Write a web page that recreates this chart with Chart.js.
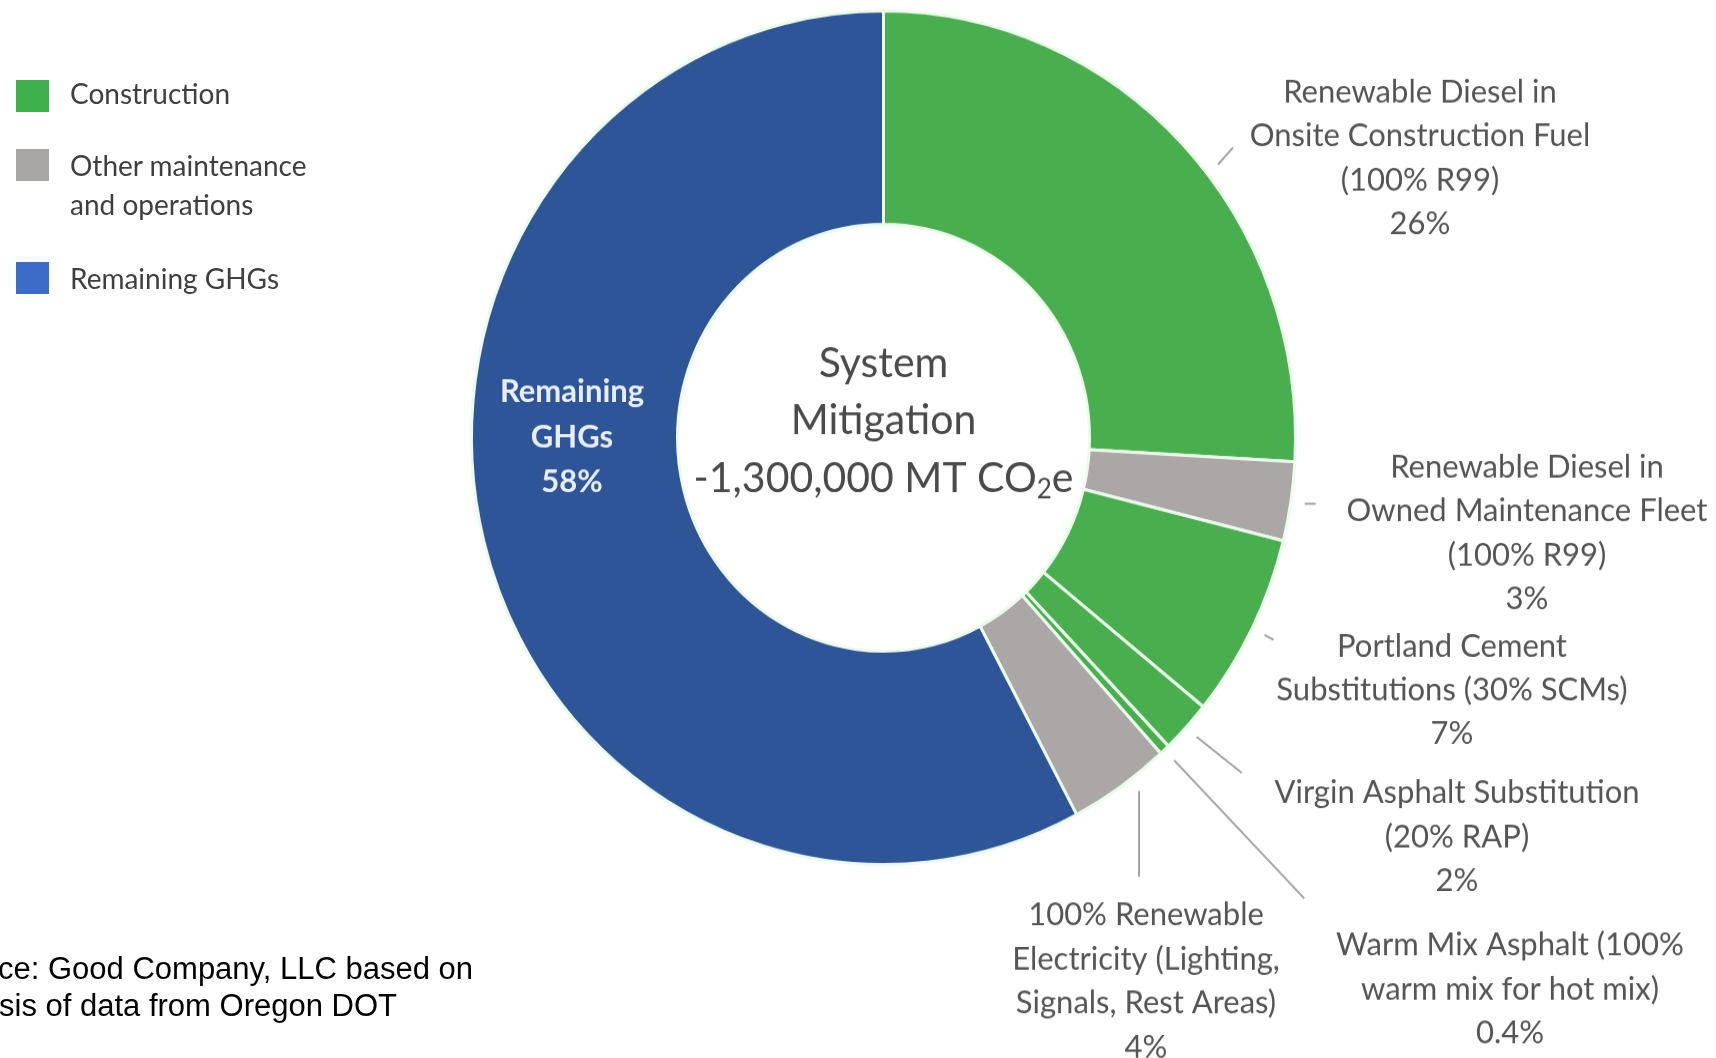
<!DOCTYPE html>
<html lang="en">
<head>
<meta charset="UTF-8">
<title>System Mitigation</title>
<script src="https://cdn.jsdelivr.net/npm/chart.js"></script>
<style>
  html, body { margin: 0; padding: 0; background: #fff; overflow: hidden; }
  #wrap { position: relative; width: 1716px; height: 1058px; overflow: hidden; }
  #chartBox { position: absolute; left: 0; top: 0; width: 1716px; height: 1058px; transform-origin: 0 0; }
  .key { position: absolute; left: 16px; width: 33px; height: 32px; }
  .keyText { position: absolute; left: 70px; font: 28px Lato, sans-serif; color: #3f3f3f; line-height: 39px; }
  .note { position: absolute; font: 31px "Liberation Sans", Arial, sans-serif; color: #000; white-space: nowrap; line-height: 37px; }
</style>
</head>
<body>
<div id="wrap">
  <div id="chartBox"><canvas id="donut"></canvas></div>
  <div id="legend"></div>
  <div class="note" id="note1" style="top:950px;">Source: Good Company, LLC based on</div>
  <div class="note" id="note2" style="top:987px;">analysis of data from Oregon DOT</div>
</div>

<script>
    // mitigation shares, clockwise from 12 o'clock
    const segmentNames = [
        ['Renewable Diesel in', 'Onsite Construction Fuel', '(100% R99)'],
        ['Renewable Diesel in', 'Owned Maintenance Fleet', '(100% R99)'],
        ['Portland Cement', 'Substitutions (30% SCMs)'],
        ['Virgin Asphalt Substitution', '(20% RAP)'],
        ['Warm Mix Asphalt (100%', 'warm mix for hot mix)'],
        ['100% Renewable', 'Electricity (Lighting,', 'Signals, Rest Areas)'],
        ['Remaining', 'GHGs']
    ];
    const shares = [26, 3, 7, 2, 0.4, 4, 58];
    const segmentGroup = [0, 1, 0, 0, 0, 1, 2];

    const groupNames = ['Construction', 'Other maintenance\nand operations', 'Remaining GHGs'];
    const groupColors = ['#49af4e', '#aba7a7', '#2e5597'];
    const keyColors = ['#3cb04a', '#a9a6a6', '#3a6cc8'];

    const centerLines = ['System', 'Mitigation'];
    const totalText = '-1,300,000 MT CO';

    // the ring is drawn a little taller than wide
    const STRETCH = 1.036;
    document.getElementById('chartBox').style.transform = 'scaleY(' + STRETCH + ')';

    // callout blocks (page coords) and leader runs off the ring
    const callouts = [
        { x: 1420, y: 92,  at: 0.555, dx: 15, dy: -17 },
        { x: 1527, y: 467, dx: 11, dy: 0 },
        { x: 1452, y: 646, dx: 9, dy: 5 },
        { x: 1457, y: 793, dx: 45, dy: 36 },
        { x: 1510, y: 945, dx: 130, dy: 138 },
        { x: 1146, y: 915, at: 0.38, dx: 0, dy: 86 },
        { x: 572,  y: 392, inside: true }
    ];

    // legend
    const legendTops = [80, 149, 262];
    const legendTextShift = [-6, -3, -3];
    const legend = document.getElementById('legend');
    groupNames.forEach((name, i) => {
        const sq = document.createElement('div');
        sq.className = 'key';
        sq.style.top = legendTops[i] + 'px';
        sq.style.background = keyColors[i];
        legend.appendChild(sq);
        const tx = document.createElement('div');
        tx.className = 'keyText';
        tx.style.top = (legendTops[i] + legendTextShift[i]) + 'px';
        tx.innerHTML = name.replace('\n', '<br>');
        legend.appendChild(tx);
    });

    // the source note runs off the left edge
    const mctx = document.createElement('canvas').getContext('2d');
    mctx.font = '31px "Liberation Sans"';
    document.getElementById('note1').style.left = (-2 - mctx.measureText('Sour').width) + 'px';
    document.getElementById('note2').style.left = (-1 - mctx.measureText('analy').width) + 'px';

    const calloutPlugin = {
        id: 'callouts',
        afterDatasetsDraw(chart) {
            const ctx = chart.ctx;
            const arcs = chart.getDatasetMeta(0).data;
            ctx.save();
            ctx.textAlign = 'center';
            ctx.textBaseline = 'middle';
            arcs.forEach((arc, i) => {
                const p = arc.getProps(['x', 'y', 'startAngle', 'endAngle', 'outerRadius'], true);
                const c = callouts[i];
                const lines = segmentNames[i].concat([shares[i] + '%']);
                if (c.inside) {
                    ctx.fillStyle = '#e9effa';
                    ctx.font = 'bold 31px Lato';
                    lines.forEach((t, k) => ctx.fillText(t, c.x, (c.y + k * 45) / STRETCH));
                    return;
                }
                const f = c.at !== undefined ? c.at : 0.5;
                const a = p.startAngle + (p.endAngle - p.startAngle) * f;
                const r = p.outerRadius + 14;
                const sx = p.x + Math.cos(a) * r;
                const sy = p.y + Math.sin(a) * r;
                ctx.strokeStyle = '#a3a3a3';
                ctx.lineWidth = 2;
                ctx.beginPath();
                ctx.moveTo(sx, sy);
                ctx.lineTo(sx + c.dx, sy + c.dy / STRETCH);
                ctx.stroke();

                ctx.fillStyle = '#555555';
                ctx.font = '31px Lato';
                lines.forEach((t, k) => ctx.fillText(t, c.x, (c.y + k * 44) / STRETCH));
            });

            // centre caption
            const cx = arcs[0].x, cy = arcs[0].y;
            ctx.fillStyle = '#4a4a4a';
            ctx.font = '41px Lato';
            ctx.fillText(centerLines[0], cx, cy - 74 / STRETCH);
            ctx.fillText(centerLines[1], cx, cy - 17 / STRETCH);
            const wMain = ctx.measureText(totalText).width;
            const wE = ctx.measureText('e').width;
            ctx.font = '26px Lato';
            const wSub = ctx.measureText('2').width;
            let x = cx - (wMain + wSub + wE) / 2;
            ctx.textAlign = 'left';
            ctx.font = '41px Lato';
            ctx.fillText(totalText, x, cy + 41 / STRETCH);
            x += wMain;
            ctx.font = '26px Lato';
            ctx.fillText('2', x, cy + 52 / STRETCH);
            x += wSub;
            ctx.font = '41px Lato';
            ctx.fillText('e', x, cy + 41 / STRETCH);
            ctx.restore();
        }
    };

    const ctx = document.getElementById('donut').getContext('2d');
    const donut = new Chart(ctx, {
        type: 'doughnut',
        data: {
            labels: segmentNames.map(l => l.join(' ')),
            datasets: [{
                data: shares,
                backgroundColor: segmentGroup.map(g => groupColors[g]),
                borderColor: '#ecfbec',
                borderWidth: 3
            }]
        },
        options: {
            responsive: true,
            maintainAspectRatio: false,
            animation: false,
            events: [],
            cutout: '50%',
            layout: { padding: { left: 470, right: 419, top: 9, bottom: 222 } },
            plugins: {
                legend: { display: false },
                tooltip: { enabled: false }
            }
        },
        plugins: [calloutPlugin]
    });
</script>
</body>
</html>
